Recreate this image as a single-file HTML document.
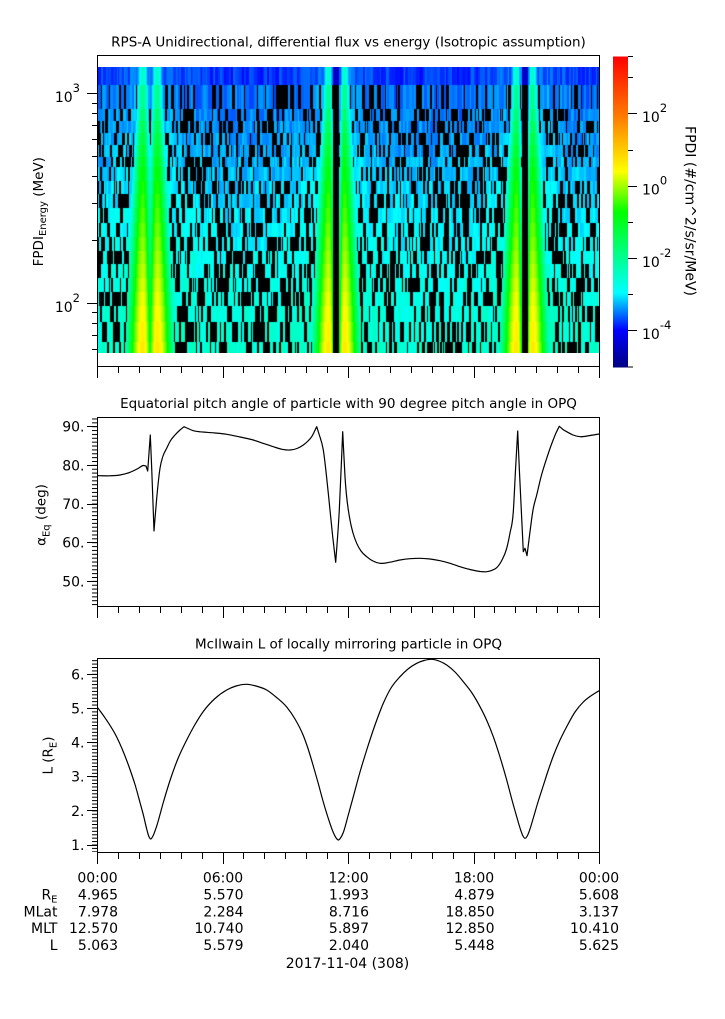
<!DOCTYPE html>
<html>
<head>
<meta charset="utf-8">
<style>
  html,body{margin:0;padding:0;background:#fff;}
  #wrap{position:relative;width:725px;height:1019px;overflow:hidden;background:#fff;}
  #spec{position:absolute;left:98px;top:67px;width:501px;height:286px;
    background:linear-gradient(#0038e0 0%,#0038e0 6.3%,#0050a0 7%,#005a90 40%,#007a80 70%,#008a70 100%);}
  svg{position:absolute;left:0;top:0;}
  text{font-family:"DejaVu Sans","Liberation Sans",sans-serif;fill:#000;}
</style>
</head>
<body>
<div id="wrap">
<canvas id="spec" width="501" height="286"></canvas>
<svg id="main" width="725" height="1019" viewBox="0 0 725 1019" xmlns="http://www.w3.org/2000/svg">
  <defs>
    <linearGradient id="cb" x1="0" y1="0" x2="0" y2="1">
      <stop offset="0" stop-color="#ff0000"/>
      <stop offset="0.2" stop-color="#ff8000"/>
      <stop offset="0.37" stop-color="#ffff00"/>
      <stop offset="0.5" stop-color="#00ff00"/>
      <stop offset="0.63" stop-color="#00ff80"/>
      <stop offset="0.76" stop-color="#00ffff"/>
      <stop offset="0.88" stop-color="#0000ff"/>
      <stop offset="1" stop-color="#000080"/>
    </linearGradient>
    <pattern id="pm" patternUnits="userSpaceOnUse" x="0" y="426.2" width="10" height="3.8667">
      <rect width="10" height="1" fill="#000"/>
    </pattern>
    <pattern id="pbm" patternUnits="userSpaceOnUse" x="0" y="844.5" width="10" height="3.4133">
      <rect width="10" height="1" fill="#000"/>
    </pattern>
    <path id="xt" fill="none" stroke="#000" stroke-width="1" d="M97.5 0v11M223.5 0v11M348.5 0v11M474.5 0v11M599.5 0v11M118.5 0v6M139.5 0v6M160.5 0v6M181.5 0v6M202.5 0v6M243.5 0v6M264.5 0v6M285.5 0v6M306.5 0v6M327.5 0v6M369.5 0v6M390.5 0v6M411.5 0v6M432.5 0v6M453.5 0v6M494.5 0v6M515.5 0v6M536.5 0v6M557.5 0v6M578.5 0v6"/>
  </defs>

  <!-- ============ TOP PANEL ============ -->
  <text x="348.5" y="46.5" text-anchor="middle" font-size="13.5">RPS-A Unidirectional, differential flux vs energy (Isotropic assumption)</text>
  <rect x="97.5" y="55.5" width="502" height="311" fill="none" stroke="#000" stroke-width="1"/>
  <path fill="none" stroke="#000" stroke-width="1" d="M87 93.5h10.5M87 303.5h10.5M92 349.5h5.5M92 335.5h5.5M92 323.5h5.5M92 312.5h5.5M92 240.5h5.5M92 203.5h5.5M92 176.5h5.5M92 156.5h5.5M92 139.5h5.5M92 125.5h5.5M92 113.5h5.5M92 103.5h5.5"/>
  <use href="#xt" x="0" y="367"/>
  <text x="80" y="101.8" text-anchor="end" font-size="14">10<tspan font-size="11.5" dy="-10">3</tspan></text>
  <text x="80" y="311.8" text-anchor="end" font-size="14">10<tspan font-size="11.5" dy="-10">2</tspan></text>
  <text transform="translate(43,211.7) rotate(-90)" text-anchor="middle" font-size="13.5">FPDI<tspan font-size="10" dy="3">Energy</tspan><tspan dy="-3"> (MeV)</tspan></text>

  <!-- colorbar -->
  <rect x="613" y="56.5" width="15" height="311" fill="url(#cb)"/>
  <path fill="none" stroke="#000" stroke-width="1" d="M628 113.5h9M628 186.5h9M628 258.5h9M628 330.5h9M628 77.5h5M628 150.5h5M628 222.5h5M628 294.5h5M628 56.5h5M628 367h5"/>
  <text x="642" y="122" font-size="14">10<tspan font-size="11.5" dy="-10">2</tspan></text>
  <text x="642" y="194.5" font-size="14">10<tspan font-size="11.5" dy="-10">0</tspan></text>
  <text x="642" y="266.8" font-size="14">10<tspan font-size="11.5" dy="-10">-2</tspan></text>
  <text x="642" y="339" font-size="14">10<tspan font-size="11.5" dy="-10">-4</tspan></text>
  <text transform="translate(685.5,211) rotate(90)" text-anchor="middle" font-size="14">FPDI (#/cm^2/s/sr/MeV)</text>

  <!-- ============ MIDDLE PANEL ============ -->
  <text x="348.5" y="408" text-anchor="middle" font-size="13.5">Equatorial pitch angle of particle with 90 degree pitch angle in OPQ</text>
  <rect x="97.5" y="417.5" width="502" height="189" fill="none" stroke="#000" stroke-width="1"/>
  <rect x="92" y="418" width="5.5" height="188.5" fill="url(#pm)"/>
  <path fill="none" stroke="#000" stroke-width="1" d="M87 426.5h10.5M87 465.5h10.5M87 504.5h10.5M87 542.5h10.5M87 581.5h10.5"/>
  <use href="#xt" x="0" y="607"/>
  <g font-size="14" text-anchor="end">
    <text x="84.5" y="431.7">90.</text>
    <text x="84.5" y="470.4">80.</text>
    <text x="84.5" y="509">70.</text>
    <text x="84.5" y="547.7">60.</text>
    <text x="84.5" y="586.4">50.</text>
  </g>
  <text transform="translate(45.5,515) rotate(-90)" text-anchor="middle" font-size="13.5">α<tspan font-size="10" dy="4">Eq</tspan><tspan dy="-4"> (deg)</tspan></text>
  <polyline id="pl1" fill="none" stroke="#000" stroke-width="1.2" stroke-linejoin="round" points="97.7,475.7 110,475.8 120,475 130,472.3 138,468.5 143.3,465.5 146,466 147.7,471 150.3,435 151.7,468.3 154,531 156.7,498.3 160,468.3 163,456 166.7,448.3 170,441.5 175,435 180,430 184,426.7 188,428.5 193.3,430.7 200,431.8 206.7,432.3 215,433 226.7,434.3 240,437 253.3,440 263,443.3 273.3,446.7 282,449.3 290,450 297,448.5 303.3,445 308,441 311.7,436.7 316.7,426.7 319,434 323.3,450 328.3,493.3 332.7,536.7 335.7,562.3 339.3,510 342.7,431.7 345,476.7 350,520 353,533 356.7,543.3 361,551 366.7,556.7 372,560.5 380,563.3 390,562.2 400,560 410,558.7 420,558.3 430,559 440,560.7 450,563.3 460,566.7 470,569.5 480,571.5 486.7,571.7 492,570.3 496.7,567.7 502,560 506.7,548.3 510,533 513.3,511.7 515.5,470 517.7,431 519.3,468.3 521.7,518.3 523.3,551.7 525,548.3 527,555.7 530,531.7 533,510 536.7,495 541,477 546.7,458.3 552,443 556,433 559.3,426.3 563,429.5 566.7,431.7 573,435 580,436.7 590,435.5 599,434"/>

  <!-- ============ BOTTOM PANEL ============ -->
  <text x="348.5" y="648.5" text-anchor="middle" font-size="13.5">McIlwain L of locally mirroring particle in OPQ</text>
  <rect x="97.5" y="658.5" width="502" height="194" fill="none" stroke="#000" stroke-width="1"/>
  <rect x="92" y="659" width="5.5" height="193" fill="url(#pbm)"/>
  <path fill="none" stroke="#000" stroke-width="1" d="M87 674.5h10.5M87 708.5h10.5M87 742.5h10.5M87 776.5h10.5M87 810.5h10.5M87 845.5h10.5"/>
  <use href="#xt" x="0" y="853"/>
  <g font-size="14" text-anchor="end">
    <text x="84.5" y="679.3">6.</text>
    <text x="84.5" y="713.5">5.</text>
    <text x="84.5" y="747.6">4.</text>
    <text x="84.5" y="781.7">3.</text>
    <text x="84.5" y="815.9">2.</text>
    <text x="84.5" y="850">1.</text>
  </g>
  <text transform="translate(52.5,755.5) rotate(-90)" text-anchor="middle" font-size="13.5">L (R<tspan font-size="10" dy="4">E</tspan><tspan dy="-4">)</tspan></text>
  <polyline id="pl2" fill="none" stroke="#000" stroke-width="1.2" stroke-linejoin="round" points="97.7,707.7 105,717.8 116.7,737 124,753.5 130,769.5 135,784.5 140,802.5 143.5,815.5 146.7,829 148.7,836 150.7,839 152.7,836.5 156.7,826 163,803.5 170,780.5 178,758.5 186.7,740 195,724.5 203.3,711.5 215,698.5 226.7,690 236,686 246.7,684.3 256,686 266.7,690 276,697 286.7,707 295,719 303.3,735.5 308,748.5 313.3,766 318,782.5 323.3,802 328,817.5 333.3,832.5 336,837.8 338.3,840 340.5,838 343.3,832.5 348,816 353.3,796.7 360,772 366.7,750 375,725 383.3,703.3 391,688 400,676.7 408,669 416.7,663.3 424,660.5 431.7,659.3 439,661 446.7,665 455,672 463.3,681.7 472,693 480,706.7 487,721 493.3,736.7 500,757 506.7,780 512,800 516.7,816.7 521,831 523,836 525,838.3 527.5,835.5 530,829 533.3,818 538,802 543.3,785.5 548,771 553.3,756 560,740 566.7,726.7 575,712 583.3,702 591,695.8 599,690.7"/>

  <!-- ============ BOTTOM TABLE ============ -->
  <g font-size="14">
    <g text-anchor="middle">
      <text x="97.5" y="882.5">00:00</text>
      <text x="223" y="882.5">06:00</text>
      <text x="348.5" y="882.5">12:00</text>
      <text x="474" y="882.5">18:00</text>
      <text x="599" y="882.5">00:00</text>
    </g>
    <g text-anchor="end">
      <text x="57.5" y="899.5">R<tspan font-size="10" dy="3">E</tspan></text>
      <text x="57.5" y="916.3">MLat</text>
      <text x="57.5" y="933.2">MLT</text>
      <text x="57.5" y="950">L</text>

      <text x="118" y="899.5">4.965</text>
      <text x="118" y="916.3">7.978</text>
      <text x="118" y="933.2">12.570</text>
      <text x="118" y="950">5.063</text>

      <text x="243.5" y="899.5">5.570</text>
      <text x="243.5" y="916.3">2.284</text>
      <text x="243.5" y="933.2">10.740</text>
      <text x="243.5" y="950">5.579</text>

      <text x="369" y="899.5">1.993</text>
      <text x="369" y="916.3">8.716</text>
      <text x="369" y="933.2">5.897</text>
      <text x="369" y="950">2.040</text>

      <text x="494.5" y="899.5">4.879</text>
      <text x="494.5" y="916.3">18.850</text>
      <text x="494.5" y="933.2">12.850</text>
      <text x="494.5" y="950">5.448</text>

      <text x="619" y="899.5">5.608</text>
      <text x="619" y="916.3">3.137</text>
      <text x="619" y="933.2">10.410</text>
      <text x="619" y="950">5.625</text>
    </g>
    <text x="347.5" y="968" text-anchor="middle">2017-11-04 (308)</text>
  </g>
</svg>
</div>
<script>
(function(){
  /* ---------- smooth curves ---------- */
  var NS='http://www.w3.org/2000/svg';
  var cusps1=[146,147.7,150.3,154,184,316.7,335.7,342.7,517.7,523.3,525,527,559.3];
  function parse(id){
    var el=document.getElementById(id);
    var raw=el.getAttribute('points').trim().split(/\s+/);
    var P=[];
    for(var i=0;i<raw.length;i++){var q=raw[i].split(',');P.push([parseFloat(q[0]),parseFloat(q[1])]);}
    return {el:el,P:P};
  }
  function build(P,cusps){
    var n=P.length, d=[], h=[], m=[], isC=[];
    for(var i=0;i<n-1;i++){h.push(P[i+1][0]-P[i][0]); d.push((P[i+1][1]-P[i][1])/h[i]);}
    for(var i=0;i<n;i++){
      var c=false;
      for(var k=0;k<cusps.length;k++) if(Math.abs(cusps[k]-P[i][0])<0.05) c=true;
      isC.push(c);
      if(i===0) m.push(d[0]);
      else if(i===n-1) m.push(d[n-2]);
      else m.push((h[i]*d[i-1]+h[i-1]*d[i])/(h[i-1]+h[i]));
    }
    var s='M'+P[0][0]+' '+P[0][1];
    for(var i=0;i<n-1;i++){
      var mo=isC[i]?d[i]:m[i];
      var mi=isC[i+1]?d[i]:m[i+1];
      var x1=P[i][0]+h[i]/3, y1=P[i][1]+mo*h[i]/3;
      var x2=P[i+1][0]-h[i]/3, y2=P[i+1][1]-mi*h[i]/3;
      s+='C'+x1.toFixed(2)+' '+y1.toFixed(2)+' '+x2.toFixed(2)+' '+y2.toFixed(2)+' '+P[i+1][0]+' '+P[i+1][1];
    }
    return s;
  }
  try{
    var svg=document.getElementById('main');
    [['pl1',cusps1],['pl2',[]]].forEach(function(a){
      var o=parse(a[0]);
      var p=document.createElementNS(NS,'path');
      p.setAttribute('d',build(o.P,a[1]));
      p.setAttribute('fill','none');p.setAttribute('stroke','#000');
      p.setAttribute('stroke-width','1.2');p.setAttribute('stroke-linejoin','round');
      svg.appendChild(p);
      o.el.setAttribute('display','none');
    });
  }catch(e){}

  /* ---------- spectrogram ---------- */
  var c=document.getElementById('spec');
  if(!c||!c.getContext) return;
  var g=c.getContext('2d');
  var X0=98, Y0=67;
  var rows=[67,85,109,121,133,145,157,167,181,194,208,223,237,251,264,278,292,306,322,342,353];
  var s=2463534242;
  function rnd(){ s^=(s<<13); s>>>=0; s^=(s>>>17); s^=(s<<5); s>>>=0; return (s%1000003)/1000003; }
  var st=[[0,0,0,128],[0.12,0,0,255],[0.24,0,255,255],[0.37,0,255,128],[0.5,0,255,0],[0.63,255,255,0],[0.8,255,128,0],[1,255,0,0]];
  function col(t){
    if(t<0)t=0; if(t>1)t=1;
    for(var i=1;i<st.length;i++){
      if(t<=st[i][0]){
        var a=st[i-1], b=st[i], f=(t-a[0])/(b[0]-a[0]);
        return 'rgb('+Math.round(a[1]+(b[1]-a[1])*f)+','+Math.round(a[2]+(b[2]-a[2])*f)+','+Math.round(a[3]+(b[3]-a[3])*f)+')';
      }
    }
    return 'rgb(255,0,0)';
  }
  var S=[[143,-1,1.6],[157,1,1.6],[329,-1,1],[344,1,1],[517,-1,1],[532,1,1]];
  var gaps=[[333,339],[522,528]];
  var bc=[150,336,525];
  function band(x,r){
    var q=r/19, pk=0.3+0.36*Math.pow(q,0.6), wo=7+13*q, wi=4+4*q, m=0;
    for(var i=0;i<S.length;i++){
      var d=x-S[i][0];
      var w=(d*S[i][1]>0)?wo:wi*S[i][2];
      var v=pk*Math.exp(-(d/w)*(d/w));
      if(v>m)m=v;
    }
    return m;
  }
  function broad(x){
    var m=0;
    for(var i=0;i<bc.length;i++){ var d=(x-bc[i])/35; var v=0.03*Math.exp(-d*d); if(v>m)m=v; }
    return m;
  }
  function inGap(x){
    for(var i=0;i<gaps.length;i++) if(x>=gaps[i][0]&&x<gaps[i][1]) return true;
    return false;
  }
  for(var r=0;r<20;r++){
    var y0=rows[r]-Y0, h=rows[r+1]-rows[r], q=r/19;
    var base=(r===0)?0.145:(0.165+0.12*q);
    var pb=(r===0)?0:((r===1)?0.3:(0.36+0.1*q));
    var x=98;
    while(x<599){
      var L=1+Math.floor(rnd()*2.6); if(x+L>599) L=599-x;
      var black=rnd()<pb;
      var nz=(rnd()-0.5)*0.045;
      for(var k=0;k<L;k++){
        var xx=x+k;
        if(inGap(xx)){
          g.fillStyle=(r===0)?col(0.07):'#000';
        } else {
          var b=band(xx+0.5,r);
          var bs=base+nz+broad(xx);
          if(black && b<base+0.03){ g.fillStyle='#000'; }
          else { g.fillStyle=col(Math.max(bs,b)); }
        }
        g.fillRect(xx-X0,y0,1,h);
      }
      x+=L;
    }
  }
})();
</script>
</body>
</html>
